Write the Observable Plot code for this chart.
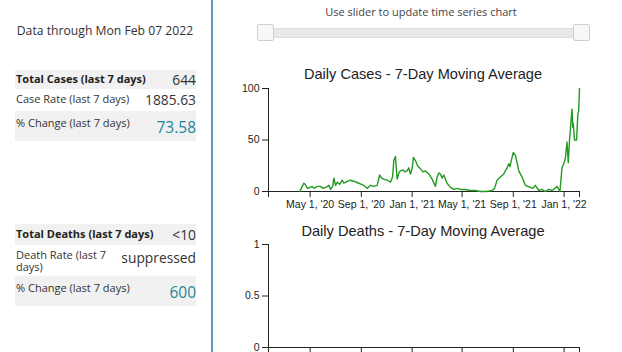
<!DOCTYPE html>
<html>
<head>
<meta charset="utf-8">
<script src="https://cdn.jsdelivr.net/npm/d3@7"></script>
<script src="https://cdn.jsdelivr.net/npm/@observablehq/plot@0.6"></script>
<style>
  html, body { margin: 0; padding: 0; width: 622px; height: 352px; overflow: hidden; background: #fff; }
  body { position: relative; font-family: "Open Sans", sans-serif; color: #333; }
  .abs { position: absolute; }
  #left { left: 0; top: 0; width: 211px; height: 352px; border-right: 2px solid #5a9db0; }
  .through { left: 0; width: 210px; top: 22px; text-align: center; font-size: 12.2px; color: #333; }
  .row { left: 15px; width: 181px; background: #f1f1f1; }
  .row.white { background: #fff; }
  .lab { position: absolute; left: 1px; font-size: 11px; line-height: 12px; color: #333; }
  .lab.b { font-weight: bold; color: #222; }
  .val { position: absolute; right: 0; font-size: 13.8px; line-height: 15px; color: #333; }
  .val.teal { color: #1f8599; font-size: 15.5px; line-height: 16px; }
  .slabel { left: 220px; width: 402px; top: 4px; text-align: center; font-size: 11px; color: #444; }
  .track { left: 258px; top: 28px; width: 330px; height: 8px; background: #e8e8e8; border: 1px solid #dcdcdc; }
  .handle { top: 24px; width: 15px; height: 15px; background: #f7f7f7; border: 1px solid #cfcfcf; border-radius: 2px; }
  .title { left: 220px; width: 406px; text-align: center; font-family: "Liberation Sans", Arial, sans-serif; font-size: 14.6px; line-height: 18px; color: #222; }
  .chart { left: 220px; }
</style>
</head>
<body>
<div id="left" class="abs"></div>
<div class="abs through">Data through Mon Feb 07 2022</div>

<div class="abs row" style="top:70px;height:19px;"><span class="lab b" style="top:3px;">Total Cases (last 7 days)</span><span class="val" style="top:2px;">644</span></div>
<div class="abs row white" style="top:89px;height:22px;"><span class="lab" style="top:4px;">Case Rate (last 7 days)</span><span class="val" style="top:3px;">1885.63</span></div>
<div class="abs row" style="top:111px;height:30px;"><span class="lab" style="top:6px;">% Change (last 7 days)</span><span class="val teal" style="top:8px;">73.58</span></div>

<div class="abs row" style="top:224px;height:21px;"><span class="lab b" style="top:4px;">Total Deaths (last 7 days)</span><span class="val" style="top:3px;">&lt;10</span></div>
<div class="abs row white" style="top:245px;height:31px;"><span class="lab" style="top:4px;line-height:11px;">Death Rate (last 7</span><span class="lab" style="top:16px;line-height:11px;">days)</span><span class="val" style="top:5px;">suppressed</span></div>
<div class="abs row" style="top:276px;height:30px;"><span class="lab" style="top:6px;">% Change (last 7 days)</span><span class="val teal" style="top:8px;">600</span></div>

<div class="abs slabel">Use slider to update time series chart</div>
<div class="abs track"></div>
<div class="abs handle" style="left:257px;"></div>
<div class="abs handle" style="left:573px;"></div>

<div class="abs title" style="top:65px;">Daily Cases - 7-Day Moving Average</div>
<div id="cases" class="abs chart" style="top:80px;"></div>
<div class="abs title" style="top:222px;">Daily Deaths - 7-Day Moving Average</div>
<div id="deaths" class="abs chart" style="top:236px;"></div>

<script>
// ---- data ----
const startDate = "2020-01-22";
const endDate = "2022-02-07";
const caseDates = [
  "2020-04-06","2020-04-12","2020-04-16","2020-04-19","2020-04-23","2020-04-26","2020-05-01","2020-05-06","2020-05-10","2020-05-14",
  "2020-05-20","2020-05-26","2020-06-01","2020-06-07","2020-06-12","2020-06-15","2020-06-19","2020-06-24","2020-06-27","2020-07-01",
  "2020-07-05","2020-07-11","2020-07-17","2020-07-21","2020-07-25","2020-07-31","2020-08-06","2020-08-10","2020-08-14","2020-08-20",
  "2020-08-26","2020-09-01","2020-09-07","2020-09-15","2020-09-23","2020-10-01","2020-10-09","2020-10-15","2020-10-20","2020-10-25",
  "2020-11-02","2020-11-10","2020-11-15","2020-11-18","2020-11-22","2020-11-26","2020-12-01","2020-12-04","2020-12-10","2020-12-15",
  "2020-12-20","2020-12-24","2020-12-28","2021-01-01","2021-01-04","2021-01-09","2021-01-14","2021-01-21","2021-01-27","2021-02-02",
  "2021-02-10","2021-02-18","2021-02-26","2021-03-02","2021-03-06","2021-03-10","2021-03-14","2021-03-18","2021-03-26","2021-04-03",
  "2021-04-11","2021-04-20","2021-04-27","2021-05-08","2021-05-21","2021-06-01","2021-06-14","2021-06-28","2021-07-12","2021-07-18",
  "2021-07-24","2021-08-01","2021-08-09","2021-08-13","2021-08-17","2021-08-21","2021-08-24","2021-08-27","2021-09-01","2021-09-06",
  "2021-09-10","2021-09-14","2021-09-22","2021-09-30","2021-10-06","2021-10-12","2021-10-18","2021-10-24","2021-11-01","2021-11-08",
  "2021-11-17","2021-11-25","2021-12-03","2021-12-10","2021-12-15","2021-12-22","2021-12-27","2022-01-01","2022-01-04","2022-01-06",
  "2022-01-08","2022-01-11","2022-01-14","2022-01-16","2022-01-18","2022-01-20","2022-01-22","2022-01-23","2022-01-26","2022-01-31",
  "2022-02-03","2022-02-05","2022-02-07"
];
const caseValues = [
  0, 5, 8, 7, 4, 3, 4, 5, 3, 4,
  5, 5, 3, 4, 5, 6, 2, 5, 13, 6,
  9, 7, 11, 8, 9, 10, 11, 10, 10, 9,
  8, 7, 6, 3, 6, 5, 6, 16, 13, 12,
  11, 9, 14, 30, 34, 12, 19, 20, 21, 19,
  20, 23, 17, 22, 33, 30, 25, 22, 19, 20,
  17, 12, 5, 14, 18, 17, 13, 16, 8, 4,
  2, 3, 2, 2, 1, 1, 0, 0, 1, 3,
  11, 14, 17, 20, 23, 27, 24, 30, 38, 35,
  28, 20, 14, 6, 5, 4, 3, 6, 1, 2,
  0, 2, 1, 3, 5, 0, 23, 28, 32, 40,
  48, 28, 50, 59, 70, 80, 62, 66, 50, 50,
  75, 78, 100
];
const deathDates = [];
const deathValues = [];
const xTickDates = ["2020-05-01","2020-09-01","2021-01-01","2021-05-01","2021-09-01","2022-01-01"];
const caseYTicks = [0, 50, 100];
const deathYTicks = [0, 0.5, 1];

// ---- build ----
const parse = d3.utcParse("%Y-%m-%d");
const x0 = parse(startDate), x1 = parse(endDate);
const fmt = d3.utcFormat("%b %-d, '%y");
const allTicks = [x0, ...xTickDates.map(parse), x1];
const tickFmt = d => (+d === +x0 || +d === +x1) ? "" : fmt(d);
const yFmt = d3.format("~g");
const cases = caseDates.map((d, i) => ({date: parse(d), value: caseValues[i]}));
const deaths = deathDates.map((d, i) => ({date: parse(d), value: deathValues[i]}));

function chart(data, yDomain, yTicks) {
  return Plot.plot({
    width: 402, height: 131,
    marginLeft: 48, marginRight: 43, marginTop: 8, marginBottom: 20,
    style: {fontFamily: "'Liberation Sans', Arial, sans-serif", fontSize: "10.5px", color: "#222", background: "transparent", overflow: "visible"},
    x: {type: "utc", domain: [x0, x1]},
    y: {domain: yDomain},
    marks: [
      Plot.axisY({ticks: yTicks, tickFormat: yFmt, tickSize: 6, tickPadding: 3, label: null, stroke: "#222"}),
      Plot.axisX({ticks: allTicks, tickFormat: tickFmt, tickSize: 6, tickPadding: 3, label: null, stroke: "#222"}),
      Plot.ruleX([x0], {stroke: "#222"}),
      Plot.ruleY([yDomain[0]], {stroke: "#222"}),
      Plot.line(data, {x: "date", y: "value", stroke: "#229a22", strokeWidth: 1.4})
    ]
  });
}
document.getElementById("cases").append(chart(cases, [0, 100], caseYTicks));
document.getElementById("deaths").append(chart(deaths, [0, 1], deathYTicks));
</script>
</body>
</html>
